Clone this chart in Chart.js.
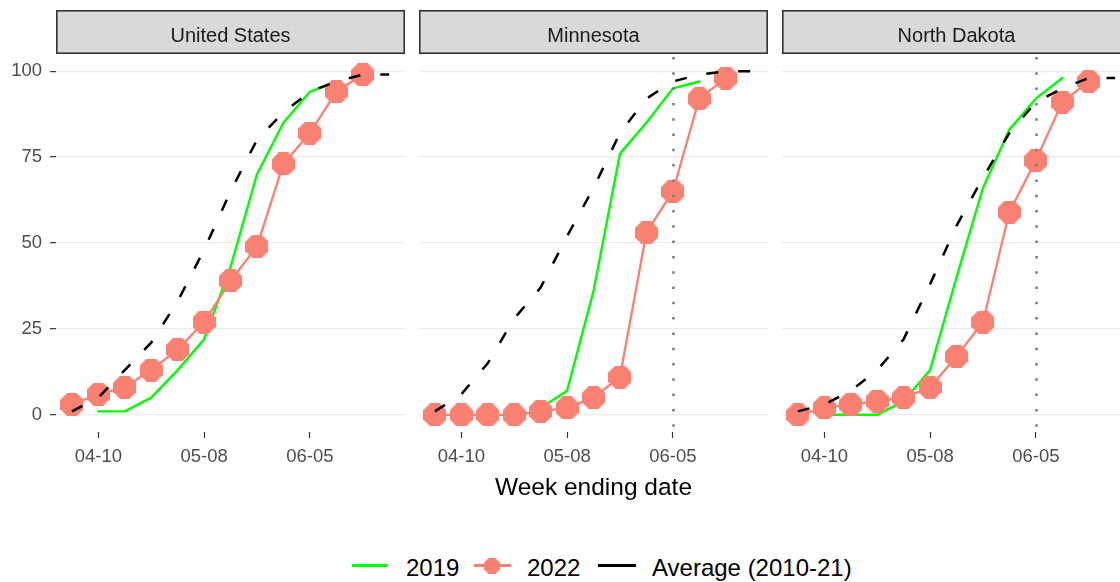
<!DOCTYPE html>
<html>
<head>
<meta charset="utf-8">
<script src="https://cdn.jsdelivr.net/npm/chart.js@4.4.1/dist/chart.umd.min.js"></script>
<style>
  html, body { margin: 0; padding: 0; background: #fff; }
  body { width: 1120px; height: 582px; overflow: hidden; position: relative;
         font-family: "Liberation Sans", Arial, sans-serif; }
  canvas.panel { position: absolute; top: 0; }
  #xtitle { position: absolute; left: 419px; width: 349px; top: 475px; line-height: 24px;
            text-align: center; font-size: 24.5px; color: #000; white-space: nowrap; }
  .legtxt { position: absolute; top: 556px; line-height: 24px; font-size: 24px; color: #000; white-space: nowrap; }
  .legline { position: absolute; height: 3px; }
  .legmark { position: absolute; }
</style>
</head>
<body>
<canvas id="pUS" class="panel" width="405" height="470" style="left:0px"></canvas>
<canvas id="pMN" class="panel" width="405" height="470" style="left:363px"></canvas>
<canvas id="pND" class="panel" width="405" height="470" style="left:726px"></canvas>
<div id="xtitle">Week ending date</div>
<div id="legend"></div>

<script>
// Weeks ending (month-day), shared by all series
const weeks = ['04-03','04-10','04-17','04-24','05-01','05-08','05-15','05-22','05-29','06-05','06-12','06-19','06-26'];
const tickWeeks = ['04-10','05-08','06-05'];
const yTicks = [0, 25, 50, 75, 100];
const refWeek = '06-05';

// Percent planted, by week
const usY2019 = [null, 1, 1, 5, 13, 22, 43, 70, 85, 94, 97, null, null];
const usY2022 = [3, 6, 8, 13, 19, 27, 39, 49, 73, 82, 94, 99, null];
const usAvg   = [1, 5, 13, 21, 33, 48, 65, 80, 88, 94, 97, 99, 99];

const mnY2019 = [null, null, null, null, 2, 7, 36, 76, 85, 95, 97, null, null];
const mnY2022 = [0, 0, 0, 0, 1, 2, 5, 11, 53, 65, 92, 98, null];
const mnAvg   = [1, 6, 15, 28, 37, 52, 66, 82, 92, 97, 99, 100, 100];

const ndY2019 = [null, 0, 0, 0, 4, 13, 40, 66, 83, 92, 98, null, null];
const ndY2022 = [0, 2, 3, 4, 5, 8, 17, 27, 59, 74, 91, 97, null];
const ndAvg   = [1, 3, 7, 13, 22, 38, 55, 69, 82, 91, 95, 98, 98];

const C2019 = '#00ff00', C2022 = '#fa8072', CAVG = '#000000';
const FONT = '"Liberation Sans", Arial, sans-serif';

function dayOf(md) {
  const [m, d] = md.split('-').map(Number);
  return (Date.UTC(2022, m - 1, d) - Date.UTC(2022, 0, 1)) / 864e5;
}
const dayLabel = {};
weeks.forEach(w => { dayLabel[dayOf(w)] = w; });
const xSpan = dayOf(weeks[weeks.length - 1]) - dayOf(weeks[0]);
const xMin = dayOf(weeks[0]) - 0.05 * xSpan;
const xMax = dayOf(weeks[weeks.length - 1]) + 0.05 * xSpan;

function octagon(size, color) {
  const c = document.createElement('canvas');
  c.width = c.height = size;
  const g = c.getContext('2d');
  const r = size / 2 / Math.cos(Math.PI / 8);
  g.fillStyle = color;
  g.beginPath();
  for (let k = 0; k < 8; k++) {
    const a = Math.PI / 8 + k * Math.PI / 4;
    const px = size / 2 + r * Math.cos(a), py = size / 2 + r * Math.sin(a);
    if (k) g.lineTo(px, py); else g.moveTo(px, py);
  }
  g.closePath();
  g.fill();
  return c;
}
const marker = octagon(23, C2022);

function pts(values) {
  return weeks.map((w, i) => ({ x: dayOf(w), y: values[i] }));
}

// Facet strip above each panel
const stripPlugin = {
  id: 'strip',
  beforeDraw(chart, args, o) {
    const { ctx, chartArea: a } = chart;
    ctx.save();
    ctx.fillStyle = '#d9d9d9';
    ctx.fillRect(a.left, 10, a.right - a.left, 44);
    ctx.strokeStyle = '#333333';
    ctx.lineWidth = 1.6;
    ctx.strokeRect(a.left + 0.8, 10.8, a.right - a.left - 1.6, 42.4);
    ctx.fillStyle = '#1a1a1a';
    ctx.font = '20px ' + FONT;
    ctx.textAlign = 'center';
    ctx.textBaseline = 'alphabetic';
    ctx.fillText(o.text, (a.left + a.right) / 2, 42);
    ctx.restore();
  }
};

// Dotted vertical reference line
const refLinePlugin = {
  id: 'refLine',
  afterDatasetsDraw(chart, args, o) {
    if (!o.show) return;
    const { ctx, chartArea: a } = chart;
    const x = Math.round(chart.scales.x.getPixelForValue(dayOf(refWeek))) + 0.5;
    ctx.save();
    ctx.strokeStyle = '#7a7a7a';
    ctx.lineWidth = 2.5;
    ctx.setLineDash([2.5, 12.8]);
    ctx.beginPath();
    ctx.moveTo(x, a.top + 3);
    ctx.lineTo(x, a.bottom);
    ctx.stroke();
    ctx.restore();
  }
};

function makePanel(id, title, s2019, s2022, sAvg, showY, showRef) {
  return new Chart(document.getElementById(id), {
    type: 'line',
    data: {
      datasets: [
        { label: 'Average (2010-21)', data: pts(sAvg), borderColor: CAVG, borderWidth: 2.5,
          borderDash: [12, 20], borderCapStyle: 'butt', pointRadius: 0, order: 1 },
        { label: '2022', data: pts(s2022), borderColor: C2022, backgroundColor: C2022, borderWidth: 2.3,
          borderJoinStyle: 'round', borderCapStyle: 'round',
          pointStyle: marker, pointRadius: 11.5, pointHoverRadius: 11.5, order: 2 },
        { label: '2019', data: pts(s2019), borderColor: C2019, borderWidth: 2.4,
          borderJoinStyle: 'round', borderCapStyle: 'round', pointRadius: 0, order: 3 }
      ]
    },
    options: {
      responsive: false,
      animation: false,
      events: [],
      spanGaps: false,
      layout: { autoPadding: false, padding: { top: 54, left: 0, right: 0, bottom: 0 } },
      plugins: {
        legend: { display: false },
        tooltip: { enabled: false },
        strip: { text: title },
        refLine: { show: showRef }
      },
      elements: { line: { tension: 0 } },
      scales: {
        x: {
          type: 'linear', min: xMin, max: xMax,
          afterFit(s) { s.height = 38; s.paddingLeft = 0; s.paddingRight = 0; },
          afterBuildTicks(s) { s.ticks = tickWeeks.map(w => ({ value: dayOf(w) })); },
          border: { display: false },
          grid: { display: true, drawOnChartArea: false, drawTicks: true, tickLength: 6,
                  tickColor: '#333333', tickWidth: 1.2 },
          ticks: { color: '#4d4d4d', font: { family: FONT, size: 18.5 }, padding: 8,
                   maxRotation: 0, autoSkip: false,
                   callback: v => dayLabel[v] || '' }
        },
        y: {
          type: 'linear', min: -5, max: 105,
          afterFit(s) { s.width = 56; s.paddingTop = 0; s.paddingBottom = 0; },
          afterBuildTicks(s) { s.ticks = yTicks.map(v => ({ value: v })); },
          border: { display: false },
          grid: { color: '#ebebeb', lineWidth: 1.3, drawTicks: showY, tickLength: 6,
                  tickColor: '#333333', tickWidth: 1.2 },
          ticks: { display: showY, color: '#4d4d4d', font: { family: FONT, size: 18.5 }, padding: 8 }
        }
      }
    },
    plugins: [stripPlugin, refLinePlugin]
  });
}

const charts = [
  makePanel('pUS', 'United States', usY2019, usY2022, usAvg, true, false),
  makePanel('pMN', 'Minnesota', mnY2019, mnY2022, mnAvg, false, true),
  makePanel('pND', 'North Dakota', ndY2019, ndY2022, ndAvg, false, true)
];

// Shared legend built from the first panel's datasets
(function buildLegend() {
  const host = document.getElementById('legend');
  const ds = charts[0].data.datasets;
  const byLabel = {};
  ds.forEach(d => { byLabel[d.label] = d; });
  const layout = [
    { label: '2019', line: [352, 387], text: 406 },
    { label: '2022', line: [474, 511], text: 527, mark: 492 },
    { label: 'Average (2010-21)', line: [598, 636], text: 652 }
  ];
  layout.forEach(item => {
    const d = byLabel[item.label];
    const ln = document.createElement('div');
    ln.className = 'legline';
    ln.style.left = item.line[0] + 'px';
    ln.style.width = (item.line[1] - item.line[0]) + 'px';
    ln.style.top = '564px';
    ln.style.background = d.borderColor;
    host.appendChild(ln);
    if (item.mark) {
      const m = octagon(16, d.borderColor);
      m.className = 'legmark';
      m.style.left = (item.mark - 8) + 'px';
      m.style.top = (565.5 - 8) + 'px';
      host.appendChild(m);
    }
    const t = document.createElement('div');
    t.className = 'legtxt';
    t.style.left = item.text + 'px';
    t.textContent = d.label;
    host.appendChild(t);
  });
})();
</script>
</body>
</html>
